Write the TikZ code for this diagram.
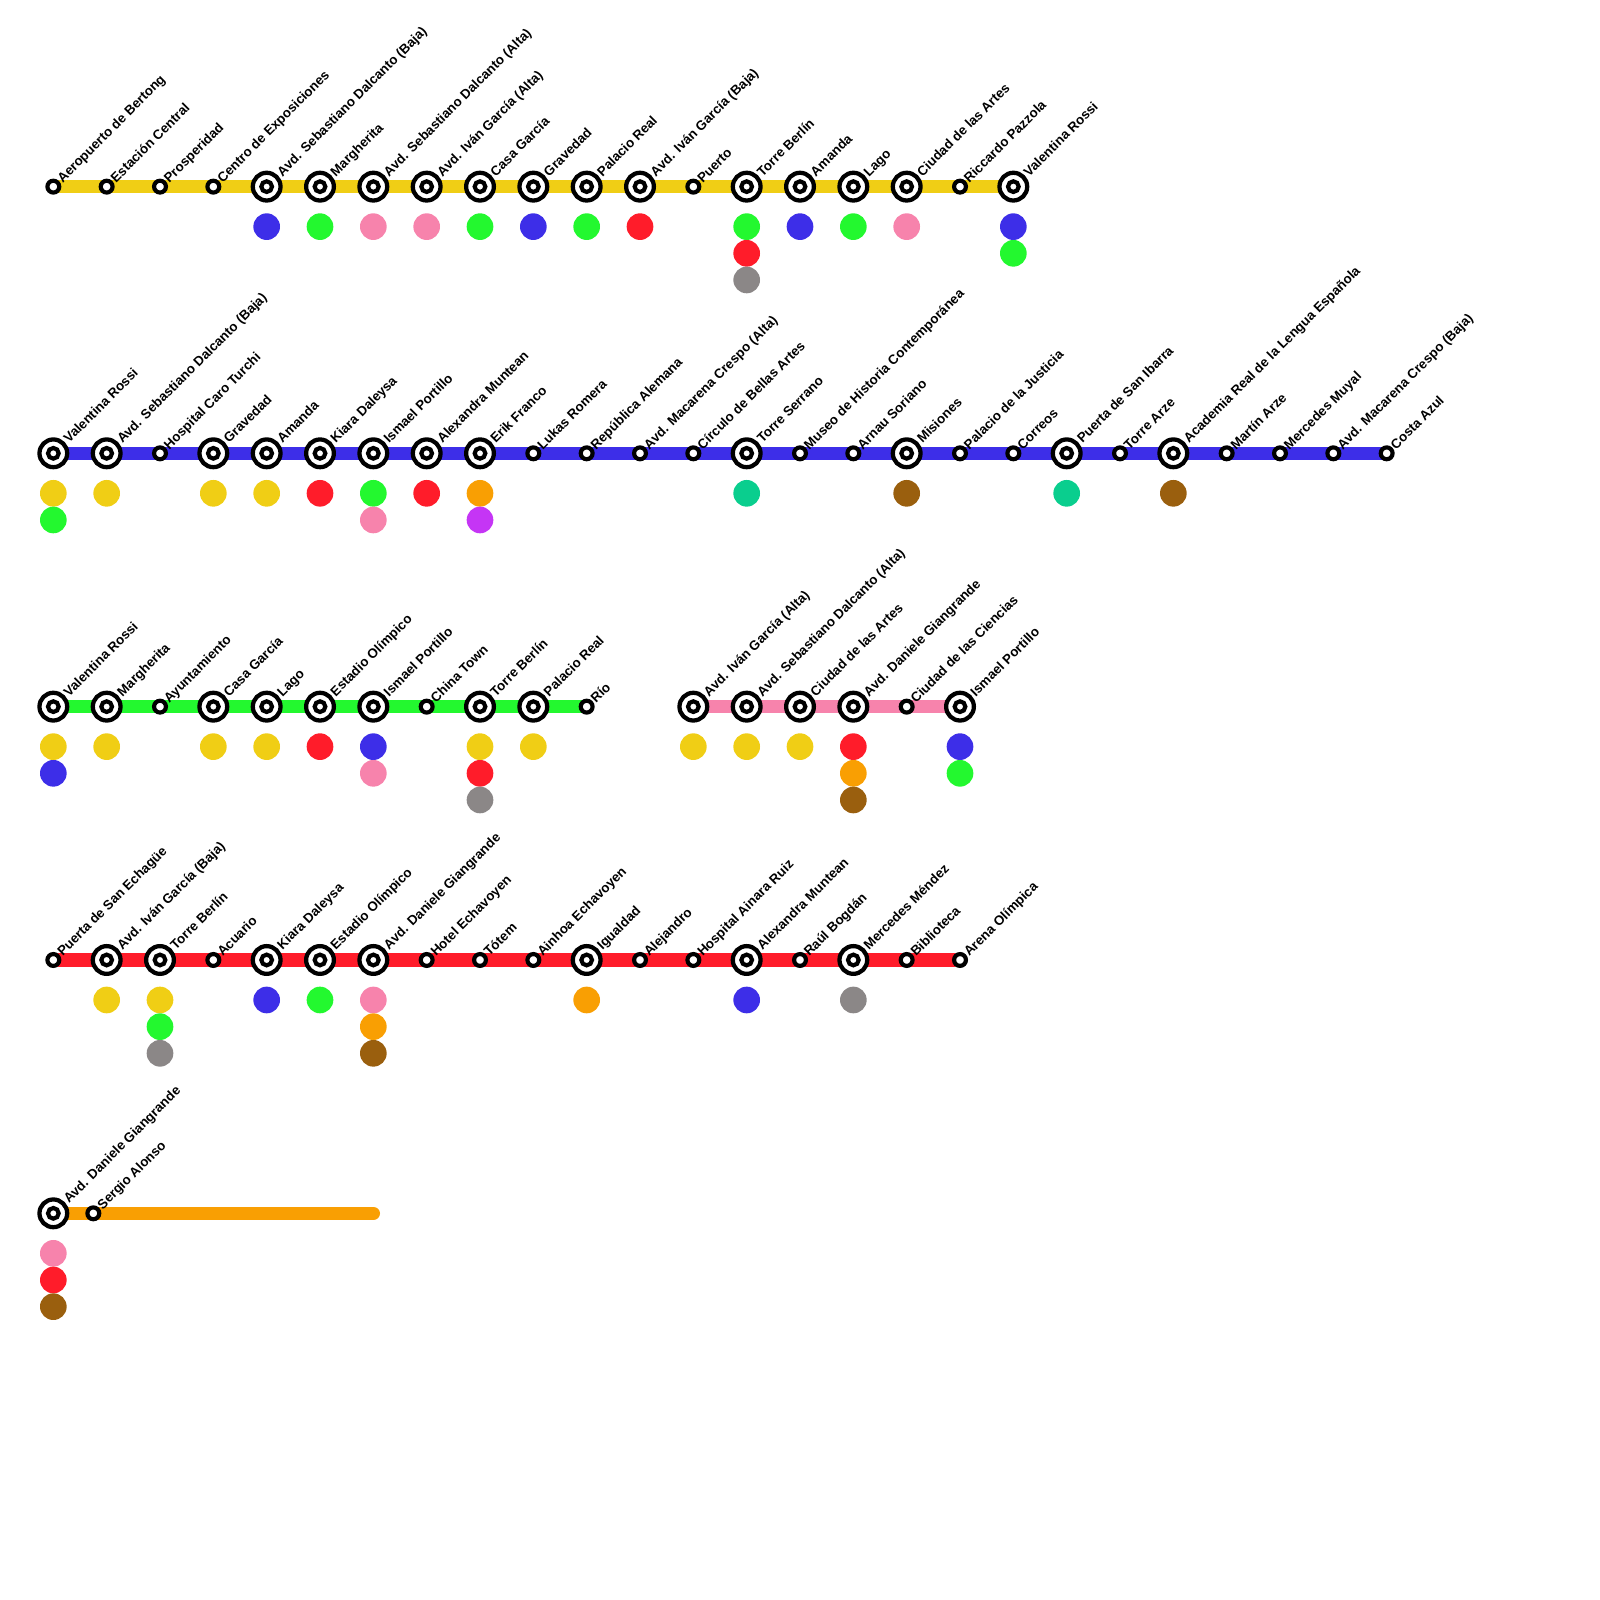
\documentclass[tikz,border=0pt]{standalone}
\usepackage{fontspec}
\setmainfont{Liberation Sans}
\usetikzlibrary{backgrounds}

\definecolor{lineyellow}{HTML}{F0CE15}
\definecolor{lineblue}{HTML}{3D2EE8}
\definecolor{linegreen}{HTML}{23F82F}
\definecolor{linepink}{HTML}{F783AC}
\definecolor{linered}{HTML}{FF1C2A}
\definecolor{lineorange}{HTML}{F99F03}
\definecolor{linebrown}{HTML}{9A5F0E}
\definecolor{lineteal}{HTML}{0ACE8E}
\definecolor{linepurple}{HTML}{C535F5}
\definecolor{linegray}{HTML}{8B8787}

\tikzset{
	metroline/.style={line width=0.25cm, line cap=round},
	smallring/.style={circle, draw=black, fill=white, line width=0.078cm, minimum size=0.222cm, inner sep=0pt, outer sep=0pt},
	bigring/.style={circle, draw=black, fill=white, line width=0.08cm, minimum size=0.52cm, inner sep=0pt, outer sep=0pt},
	corering/.style={circle, draw=black, fill=white, line width=0.078cm, minimum size=0.2cm, inner sep=0pt, outer sep=0pt},
	stoplabel/.style={rotate=45, anchor=base west, inner sep=0pt, yshift=-0.083cm, font=\bfseries\fontsize{7.11}{8}\selectfont},
	transfer/.style={circle, minimum size=0.5cm, inner sep=0pt, outer sep=0pt},
}
\def\smallstop(#1)(#2)#3{\node[smallring] (#1) at (#2) {}; \node[stoplabel, xshift=0.16cm] (#1l) at (#2) {#3};}
\def\bigstop(#1)(#2)#3{\node[bigring] (#1) at (#2) {}; \node[corering] (#1c) at (#2) {}; \node[stoplabel, xshift=0.33cm] (#1l) at (#2) {#3};}

\begin{document}
\begin{tikzpicture}
			%%%%% START %%%%%
			\useasboundingbox (0, 0) rectangle (30, 30);
			
			\smallstop(y1)(1, 26.5){Aeropuerto de Bertong}
			\smallstop(y2)(2, 26.5){Estación Central}
			\smallstop(y3)(3, 26.5){Prosperidad}
			\smallstop(y4)(4, 26.5){Centro de Exposiciones}
			\bigstop(y5)(5, 26.5){Avd. Sebastiano Dalcanto (Baja)}
			\bigstop(y6)(6, 26.5){Margherita}
			\bigstop(y7)(7, 26.5){Avd. Sebastiano Dalcanto (Alta)}
			\bigstop(y8)(8, 26.5){Avd. Iván García (Alta)}
			\bigstop(y9)(9, 26.5){Casa García}
			\bigstop(y10)(10, 26.5){Gravedad}
			\bigstop(y11)(11, 26.5){Palacio Real}
			\bigstop(y12)(12, 26.5){Avd. Iván García (Baja)}
			\smallstop(y13)(13, 26.5){Puerto}
			\bigstop(y14)(14, 26.5){Torre Berlín}
			\bigstop(y15)(15, 26.5){Amanda}
			\bigstop(y16)(16, 26.5){Lago}
			\bigstop(y17)(17, 26.5){Ciudad de las Artes}
			\smallstop(y18)(18, 26.5){Riccardo Pazzola}
			\bigstop(y19)(19, 26.5){Valentina Rossi}
			\begin{pgfonlayer}{background}
				\draw[metroline, color=lineyellow] (y1) -- (y19);
			\end{pgfonlayer}
			
			\node[transfer, fill=lineblue] (y5a) at (5, 25.75) {};
			\node[transfer, fill=linegreen] (y6a) at (6, 25.75) {};
			\node[transfer, fill=linepink] (y7a) at (7, 25.75) {};
			\node[transfer, fill=linepink] (y8a) at (8, 25.75) {};
			\node[transfer, fill=linegreen] (y9a) at (9, 25.75) {};
			\node[transfer, fill=lineblue] (y10a) at (10, 25.75) {};
			\node[transfer, fill=linegreen] (y11a) at (11, 25.75) {};
			\node[transfer, fill=linered] (y12a) at (12, 25.75) {};
			\node[transfer, fill=linegreen] (y14a) at (14, 25.75) {};
			\node[transfer, fill=linered] (y14b) at (14, 25.25) {};
			\node[transfer, fill=linegray] (y14c) at (14, 24.75) {};
			\node[transfer, fill=lineblue] (y15a) at (15, 25.75) {};
			\node[transfer, fill=linegreen] (y16a) at (16, 25.75) {};
			\node[transfer, fill=linepink] (y17a) at (17, 25.75) {};
			\node[transfer, fill=lineblue] (y19a) at (19, 25.75) {};
			\node[transfer, fill=linegreen] (y19b) at (19, 25.25) {};
			
			\bigstop(b1)(1, 21.5){Valentina Rossi}
			\bigstop(b2)(2, 21.5){Avd. Sebastiano Dalcanto (Baja)}
			\smallstop(b3)(3, 21.5){Hospital Caro Turchi}
			\bigstop(b4)(4, 21.5){Gravedad}
			\bigstop(b5)(5, 21.5){Amanda}
			\bigstop(b6)(6, 21.5){Kiara Daleysa}
			\bigstop(b7)(7, 21.5){Ismael Portillo}
			\bigstop(b8)(8, 21.5){Alexandra Muntean}
			\bigstop(b9)(9, 21.5){Erik Franco}
			\smallstop(b10)(10, 21.5){Lukas Romera}
			\smallstop(b11)(11, 21.5){República Alemana}
			\smallstop(b12)(12, 21.5){Avd. Macarena Crespo (Alta)}
			\smallstop(b13)(13, 21.5){Círculo de Bellas Artes}
			\bigstop(b14)(14, 21.5){Torre Serrano}
			\smallstop(b15)(15, 21.5){Museo de Historia Contemporánea}
			\smallstop(b16)(16, 21.5){Arnau Soriano}
			\bigstop(b17)(17, 21.5){Misiones}
			\smallstop(b18)(18, 21.5){Palacio de la Justicia}
			\smallstop(b19)(19, 21.5){Correos}
			\bigstop(b20)(20, 21.5){Puerta de San Ibarra}
			\smallstop(b21)(21, 21.5){Torre Arze}
			\bigstop(b22)(22, 21.5){Academia Real de la Lengua Española}
			\smallstop(b23)(23, 21.5){Martín Arze}
			\smallstop(b24)(24, 21.5){Mercedes Muyal}
			\smallstop(b25)(25, 21.5){Avd. Macarena Crespo (Baja)}
			\smallstop(b26)(26, 21.5){Costa Azul}
			\begin{pgfonlayer}{background}
				\draw[metroline, color=lineblue] (b1) -- (b26);
			\end{pgfonlayer}
			
			\node[transfer, fill=lineyellow] (b1a) at (1, 20.75) {};
			\node[transfer, fill=linegreen] (b1b) at (1, 20.25) {};
			\node[transfer, fill=lineyellow] (b2a) at (2, 20.75) {};
			\node[transfer, fill=lineyellow] (b4a) at (4, 20.75) {};
			\node[transfer, fill=lineyellow] (b5a) at (5, 20.75) {};
			\node[transfer, fill=linered] (b6a) at (6, 20.75) {};
			\node[transfer, fill=linegreen] (b7a) at (7, 20.75) {};
			\node[transfer, fill=linepink] (b7b) at (7, 20.25) {};
			\node[transfer, fill=linered] (b8a) at (8, 20.75) {};
			\node[transfer, fill=lineorange] (b9a) at (9, 20.75) {};
			\node[transfer, fill=linepurple] (b9b) at (9, 20.25) {};
			\node[transfer, fill=lineteal] (b14a) at (14, 20.75) {};
			\node[transfer, fill=linebrown] (b17a) at (17, 20.75) {};
			\node[transfer, fill=lineteal] (b20a) at (20, 20.75) {};
			\node[transfer, fill=linebrown] (b22a) at (22, 20.75) {};
			
			\bigstop(g1)(1, 16.75){Valentina Rossi}
			\bigstop(g2)(2, 16.75){Margherita}
			\smallstop(g3)(3, 16.75){Ayuntamiento}
			\bigstop(g4)(4, 16.75){Casa García}
			\bigstop(g5)(5, 16.75){Lago}
			\bigstop(g6)(6, 16.75){Estadio Olímpico}
			\bigstop(g7)(7, 16.75){Ismael Portillo}
			\smallstop(g8)(8, 16.75){China Town}
			\bigstop(g9)(9, 16.75){Torre Berlín}
			\bigstop(g10)(10, 16.75){Palacio Real}
			\smallstop(g11)(11, 16.75){Río}
			\begin{pgfonlayer}{background}
				\draw[metroline, color=linegreen] (g1) -- (g11);
			\end{pgfonlayer}
			
			\node[transfer, fill=lineyellow] (g1a) at (1, 16) {};
			\node[transfer, fill=lineblue] (g1b) at (1, 15.5) {};
			\node[transfer, fill=lineyellow] (g2a) at (2, 16) {};
			\node[transfer, fill=lineyellow] (g4a) at (4, 16) {};
			\node[transfer, fill=lineyellow] (g5a) at (5, 16) {};
			\node[transfer, fill=linered] (g6a) at (6, 16) {};
			\node[transfer, fill=lineblue] (g7a) at (7, 16) {};
			\node[transfer, fill=linepink] (g7b) at (7, 15.5) {};
			\node[transfer, fill=lineyellow] (g9a) at (9, 16) {};
			\node[transfer, fill=linered] (g9b) at (9, 15.5) {};
			\node[transfer, fill=linegray] (g9c) at (9, 15) {};
			\node[transfer, fill=lineyellow] (g10a) at (10, 16) {};
			
			\bigstop(p13)(13, 16.75){Avd. Iván García (Alta)}
			\bigstop(p14)(14, 16.75){Avd. Sebastiano Dalcanto (Alta)}
			\bigstop(p15)(15, 16.75){Ciudad de las Artes}
			\bigstop(p16)(16, 16.75){Avd. Daniele Giangrande}
			\smallstop(p17)(17, 16.75){Ciudad de las Ciencias}
			\bigstop(p18)(18, 16.75){Ismael Portillo}
			\begin{pgfonlayer}{background}
				\draw[metroline, color=linepink] (p13) -- (p18);
			\end{pgfonlayer}
			
			\node[transfer, fill=lineyellow] (p13a) at (13, 16) {};
			\node[transfer, fill=lineyellow] (p14a) at (14, 16) {};
			\node[transfer, fill=lineyellow] (p15a) at (15, 16) {};
			\node[transfer, fill=linered] (p16a) at (16, 16) {};
			\node[transfer, fill=lineorange] (p16b) at (16, 15.5) {};
			\node[transfer, fill=linebrown] (p16c) at (16, 15) {};
			\node[transfer, fill=lineblue] (p18a) at (18, 16) {};
			\node[transfer, fill=linegreen] (p18b) at (18, 15.5) {};
			
			\smallstop(r1)(1, 12){Puerta de San Echagüe}
			\bigstop(r2)(2, 12){Avd. Iván García (Baja)}
			\bigstop(r3)(3, 12){Torre Berlín}
			\smallstop(r4)(4, 12){Acuario}
			\bigstop(r5)(5, 12){Kiara Daleysa}
			\bigstop(r6)(6, 12){Estadio Olímpico}
			\bigstop(r7)(7, 12){Avd. Daniele Giangrande}
			\smallstop(r8)(8, 12){Hotel Echavoyen}
			\smallstop(r9)(9, 12){Tótem}
			\smallstop(r10)(10, 12){Ainhoa Echavoyen}
			\bigstop(r11)(11, 12){Igualdad}
			\smallstop(r12)(12, 12){Alejandro}
			\smallstop(r13)(13, 12){Hospital Ainara Ruiz}
			\bigstop(r14)(14, 12){Alexandra Muntean}
			\smallstop(r15)(15, 12){Raúl Bogdán}
			\bigstop(r16)(16, 12){Mercedes Méndez}
			\smallstop(r17)(17, 12){Biblioteca}
			\smallstop(r18)(18, 12){Arena Olímpica}
			\begin{pgfonlayer}{background}
				\draw[metroline, color=linered] (r1) -- (r18);
			\end{pgfonlayer}
			
			\node[transfer, fill=lineyellow] (r2a) at (2, 11.25) {};
			\node[transfer, fill=lineyellow] (r3a) at (3, 11.25) {};
			\node[transfer, fill=linegreen] (r3b) at (3, 10.75) {};
			\node[transfer, fill=linegray] (r3c) at (3, 10.25) {};
			\node[transfer, fill=lineblue] (r5a) at (5, 11.25) {};
			\node[transfer, fill=linegreen] (r6a) at (6, 11.25) {};
			\node[transfer, fill=linepink] (r7a) at (7, 11.25) {};
			\node[transfer, fill=lineorange] (r7b) at (7, 10.75) {};
			\node[transfer, fill=linebrown] (r7c) at (7, 10.25) {};
			\node[transfer, fill=lineorange] (r11a) at (11, 11.25) {};
			\node[transfer, fill=lineblue] (r14a) at (14, 11.25) {};
			\node[transfer, fill=linegray] (r16a) at (16, 11.25) {};
			
			\bigstop(o1)(1, 7.25){Avd. Daniele Giangrande}
			\smallstop(o2)(1.75, 7.25){Sergio Alonso}
			\coordinate (oend) at (7, 7.25);
			\begin{pgfonlayer}{background}
				\draw[metroline, color=lineorange] (o1) -- (oend);
			\end{pgfonlayer}
			
			\node[transfer, fill=linepink] (o1a) at (1, 6.5) {};
			\node[transfer, fill=linered] (o1b) at (1, 6) {};
			\node[transfer, fill=linebrown] (o1c) at (1, 5.5) {};
			
			%%%%% END %%%%%
\end{tikzpicture}
\end{document}
